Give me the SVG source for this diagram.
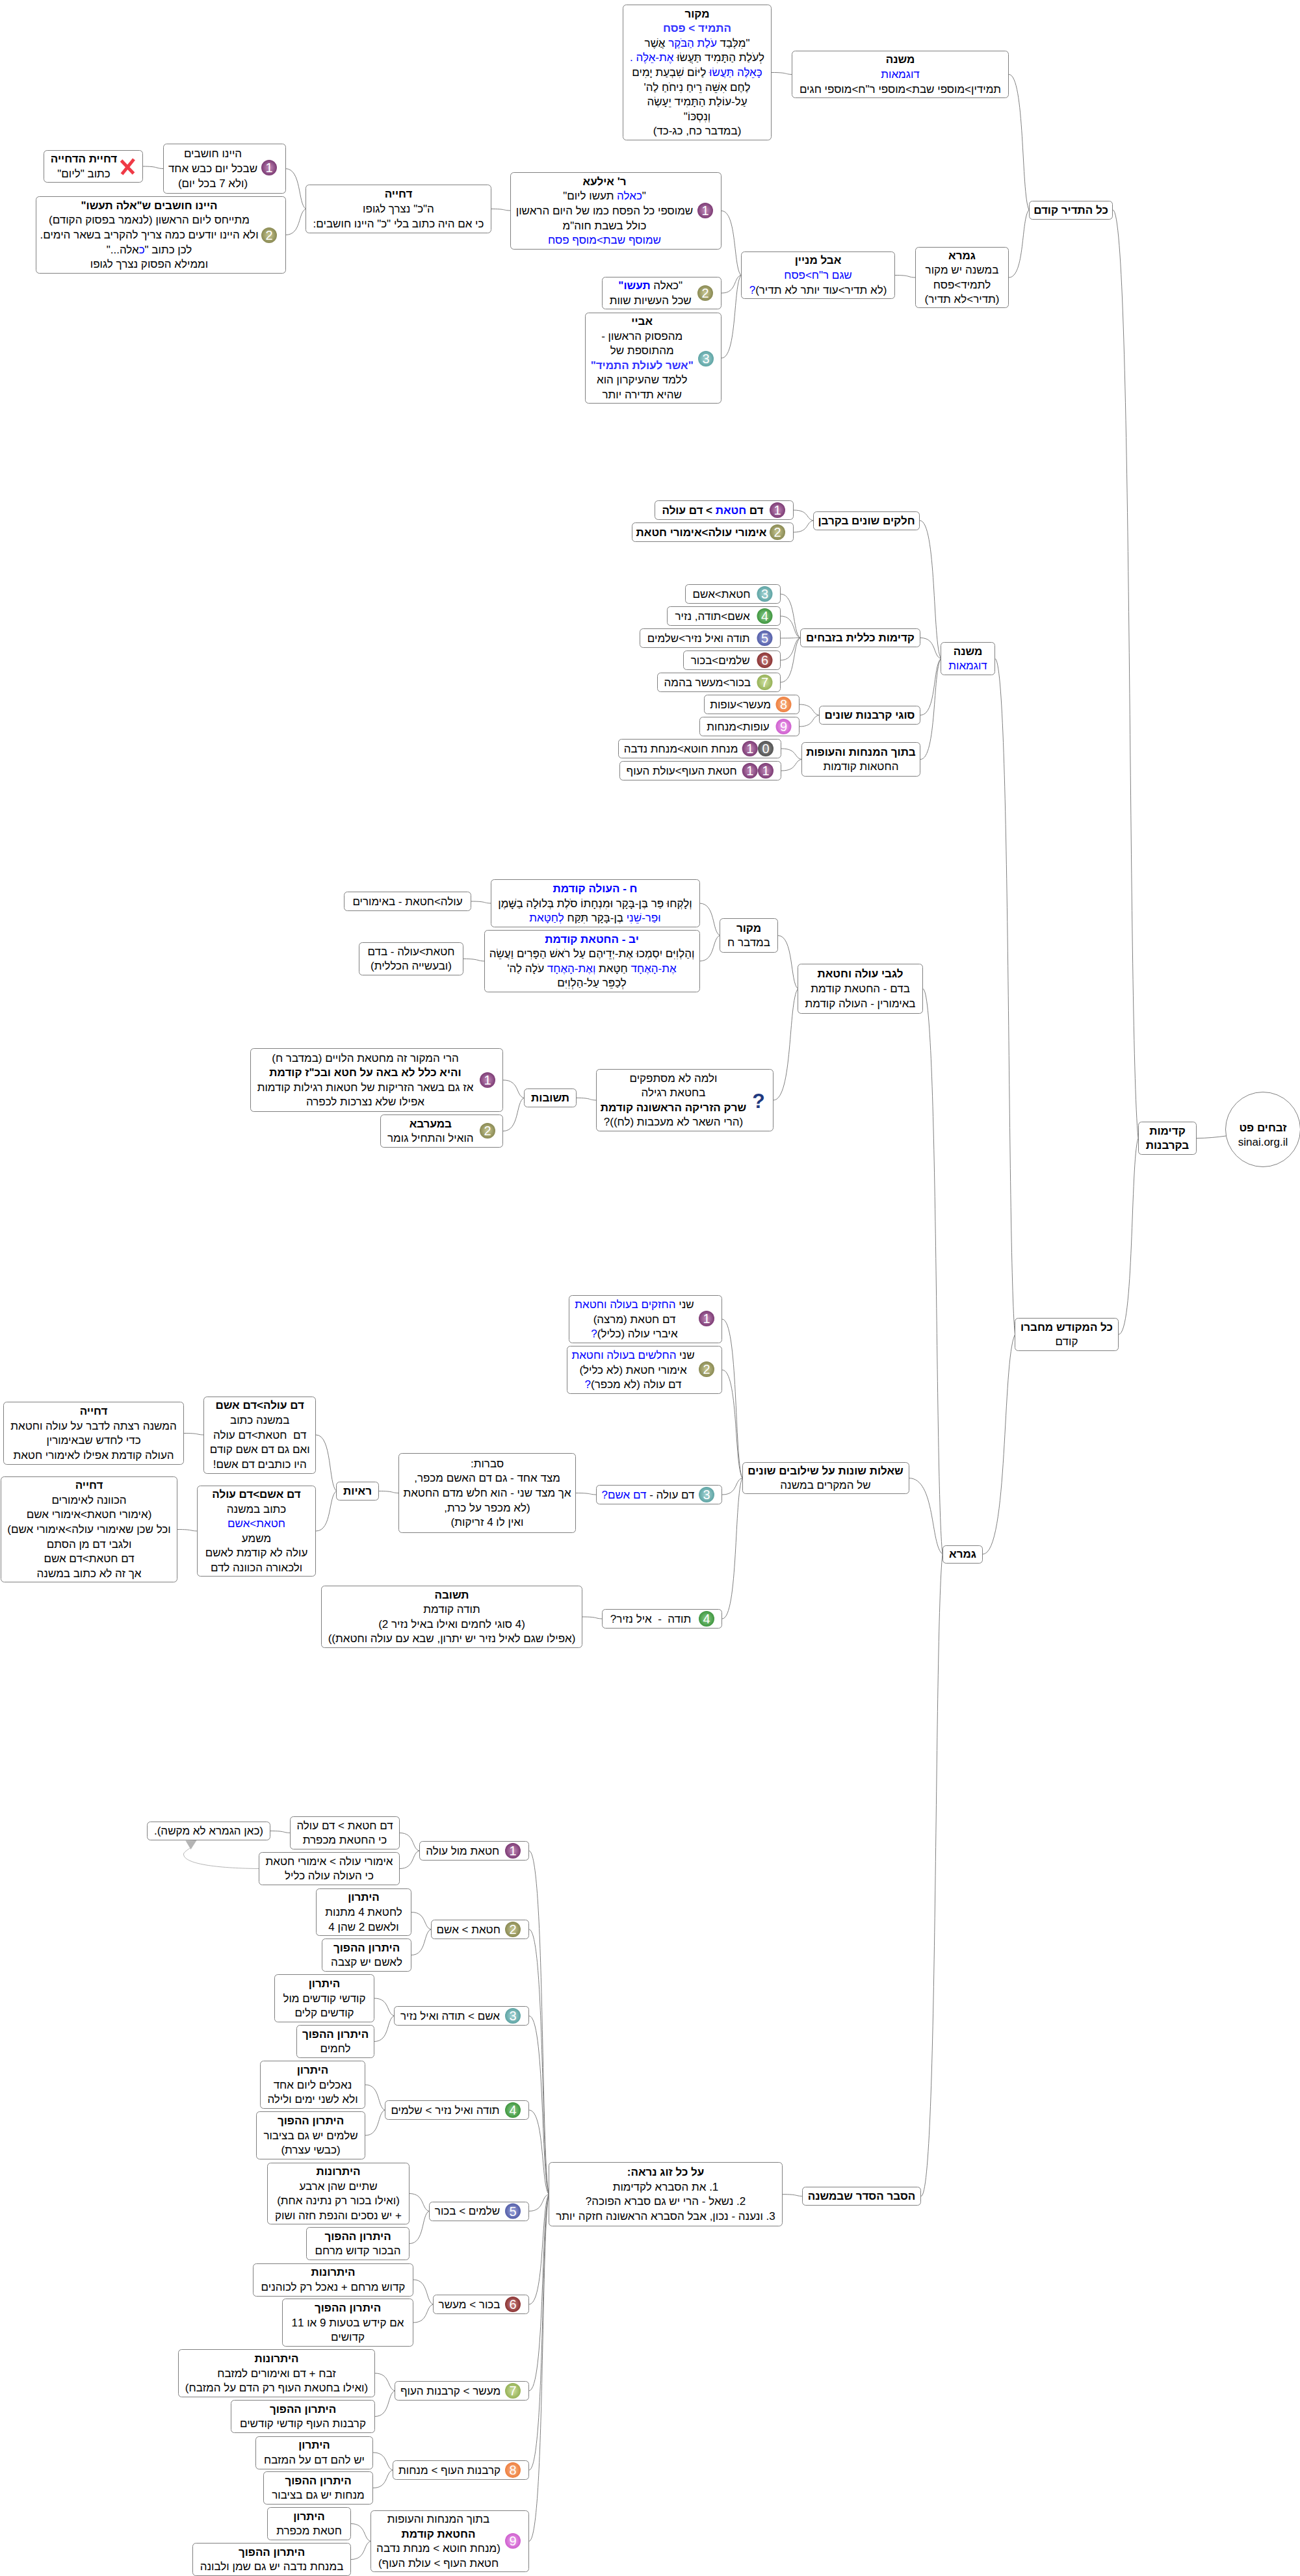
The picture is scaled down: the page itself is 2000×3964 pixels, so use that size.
<svg xmlns="http://www.w3.org/2000/svg" width="2000" height="3964" viewBox="0 0 2000 3964">
<style>
text{font-family:"Liberation Sans","DejaVu Sans",sans-serif;font-size:17px;text-anchor:middle;direction:rtl;fill:#000}
.b{font-weight:bold}
.u{fill:#00f}
.v{fill:#33f}
.n{fill:#fff;stroke:#808080;stroke-width:1}
.c{fill:none;stroke:#808080;stroke-width:1}
.m{stroke:none}
.d{font-size:20px;fill:#fff;direction:ltr}
</style>
<defs>
<radialGradient id="m1" cx=".5" cy=".5" r=".6"><stop offset="0" stop-color="#c48fbc"/><stop offset="1" stop-color="#6e2a66"/></radialGradient>
<radialGradient id="m2" cx=".5" cy=".5" r=".6"><stop offset="0" stop-color="#c9c996"/><stop offset="1" stop-color="#7d7d45"/></radialGradient>
<radialGradient id="m3" cx=".5" cy=".5" r=".6"><stop offset="0" stop-color="#a8d6d6"/><stop offset="1" stop-color="#4f9a9a"/></radialGradient>
<radialGradient id="m4" cx=".5" cy=".5" r=".6"><stop offset="0" stop-color="#8fd08f"/><stop offset="1" stop-color="#2f8a2f"/></radialGradient>
<radialGradient id="m5" cx=".5" cy=".5" r=".6"><stop offset="0" stop-color="#a0a8dc"/><stop offset="1" stop-color="#444f9e"/></radialGradient>
<radialGradient id="m6" cx=".5" cy=".5" r=".6"><stop offset="0" stop-color="#cc8888"/><stop offset="1" stop-color="#7d2222"/></radialGradient>
<radialGradient id="m7" cx=".5" cy=".5" r=".6"><stop offset="0" stop-color="#cfe0a0"/><stop offset="1" stop-color="#8aa848"/></radialGradient>
<radialGradient id="m8" cx=".5" cy=".5" r=".6"><stop offset="0" stop-color="#f8b88c"/><stop offset="1" stop-color="#ec7430"/></radialGradient>
<radialGradient id="m9" cx=".5" cy=".5" r=".6"><stop offset="0" stop-color="#eeaaee"/><stop offset="1" stop-color="#c850c8"/></radialGradient>
<radialGradient id="m0" cx=".5" cy=".5" r=".6"><stop offset="0" stop-color="#999"/><stop offset="1" stop-color="#444"/></radialGradient>
</defs>
<g id="connectors">
<path class="c" d="M1187 111.5C1212 111.5 1206 114 1218 114.5"/>
<path class="c" d="M1552 114.5C1577 114.5 1571 298 1583 323"/>
<path class="c" d="M1552 427C1577 427 1571 335.5 1583 323"/>
<path class="c" d="M1376.5 423.5C1402 423.5 1395 426.6 1408 427"/>
<path class="c" d="M1110 324.5C1134 324.5 1128 411.6 1140 423.5"/>
<path class="c" d="M1110 451C1134 451 1128 426.8 1140 423.5"/>
<path class="c" d="M1110 551C1134 551 1128 438.8 1140 423.5"/>
<path class="c" d="M755 321.5C779 321.5 773 323.7 785 324"/>
<path class="c" d="M439 259.5C464.3 259.5 458 314 470.6 321.5"/>
<path class="c" d="M439 361.5C464.3 361.5 458 326.3 470.6 321.5"/>
<path class="c" d="M219 256C244.6 256 238.2 259.1 251 259.5"/>
<path class="c" d="M1712 323C1743 323 1734.4 1580 1751 1751.5"/>
<path class="c" d="M1720.7 2053.5C1745 2053.5 1739 1787.7 1751 1751.5"/>
<path class="c" d="M1840.5 1751.5C1857 1751.5 1872 1750 1886 1748"/>
<path class="c" d="M1530.6 1013.5C1555.3 1013.5 1549.1 1928.7 1561.5 2053.5"/>
<path class="c" d="M1512 2391.5C1551.6 2391.5 1541.7 2094 1561.5 2053.5"/>
<path class="c" d="M1419.6 1521.5C1443.9 1521.5 1438.2 2287 1450 2391.5"/>
<path class="c" d="M1398 2274.5C1439.6 2274.5 1431.2 2377.5 1450 2391.5"/>
<path class="c" d="M1417 3379.5C1443.4 3379.5 1436.8 2510 1450 2391.5"/>
<path class="c" d="M1415 801C1441 801 1434.5 988 1447.5 1013.5"/>
<path class="c" d="M1416 981.5C1441.2 981.5 1434.9 1009.7 1447.5 1013.5"/>
<path class="c" d="M1416 1100.5C1441.2 1100.5 1434.9 1024 1447.5 1013.5"/>
<path class="c" d="M1416 1168.5C1441.2 1168.5 1434.9 1032 1447.5 1013.5"/>
<path class="c" d="M1221 785C1245.4 785 1239.3 799 1251.5 801"/>
<path class="c" d="M1221 819C1245.4 819 1239.3 803 1251.5 801"/>
<path class="c" d="M1200.5 914C1224.9 914 1218.8 973.4 1231 981.5"/>
<path class="c" d="M1200.5 948C1224.9 948 1218.8 977.5 1231 981.5"/>
<path class="c" d="M1200.5 982C1224.9 982 1218.8 981.5 1231 981.5"/>
<path class="c" d="M1200.5 1016C1224.9 1016 1218.8 985.6 1231 981.5"/>
<path class="c" d="M1200.5 1050C1224.9 1050 1218.8 989.7 1231 981.5"/>
<path class="c" d="M1229.5 1084C1253.9 1084 1247.8 1098.5 1260 1100.5"/>
<path class="c" d="M1229.5 1118C1253.9 1118 1247.8 1102.6 1260 1100.5"/>
<path class="c" d="M1202 1152C1227.2 1152 1220.9 1166.5 1233.5 1168.5"/>
<path class="c" d="M1202 1186C1227.2 1186 1220.9 1170.6 1233.5 1168.5"/>
<path class="c" d="M1196.6 1439.5C1221.4 1439.5 1215.2 1511.7 1227.5 1521.5"/>
<path class="c" d="M1189.6 1693C1220 1693 1212.4 1542 1227.5 1521.5"/>
<path class="c" d="M1076 1390C1101.2 1390 1094.9 1433.6 1107.5 1439.5"/>
<path class="c" d="M1076 1479C1101.2 1479 1094.9 1444.2 1107.5 1439.5"/>
<path class="c" d="M724.5 1387C748.9 1387 742.8 1389.6 755 1390"/>
<path class="c" d="M713 1475.5C738.6 1475.5 732.2 1478.6 745 1479"/>
<path class="c" d="M886.5 1689.5C910.9 1689.5 904.8 1692.6 917 1693"/>
<path class="c" d="M774 1662C799.6 1662 793.2 1686.2 806 1689.5"/>
<path class="c" d="M774 1740.5C799.6 1740.5 793.2 1695.6 806 1689.5"/>
<path class="c" d="M1111 2030C1135.8 2030 1129.6 2245 1142 2274.5"/>
<path class="c" d="M1111 2108C1135.8 2108 1129.6 2254.5 1142 2274.5"/>
<path class="c" d="M1111 2300C1135.8 2300 1129.6 2277.5 1142 2274.5"/>
<path class="c" d="M1111 2491C1135.8 2491 1129.6 2300.5 1142 2274.5"/>
<path class="c" d="M886 2297.5C911.2 2297.5 904.9 2299.7 917.5 2300"/>
<path class="c" d="M582.5 2294.5C606.9 2294.5 600.8 2297.1 613 2297.5"/>
<path class="c" d="M486 2208C511.3 2208 505 2284 517.6 2294.5"/>
<path class="c" d="M486 2356C511.3 2356 505 2301.9 517.6 2294.5"/>
<path class="c" d="M283 2205.5C307.4 2205.5 301.3 2207.7 313.5 2208"/>
<path class="c" d="M272.5 2353.5C297.5 2353.5 291.2 2355.7 303.7 2356"/>
<path class="c" d="M895.5 2488C920.4 2488 914.2 2490.6 926.6 2491"/>
<path class="c" d="M1203.7 3376.7C1228.4 3376.7 1222.2 3379.2 1234.6 3379.5"/>
<path class="c" d="M813.7 2848C838.2 2848 832 3313.3 844.3 3376.7"/>
<path class="c" d="M813.7 2969C838.2 2969 832 3327.8 844.3 3376.7"/>
<path class="c" d="M813.7 3102C838.2 3102 832 3343.7 844.3 3376.7"/>
<path class="c" d="M813.7 3247C838.2 3247 832 3361.1 844.3 3376.7"/>
<path class="c" d="M813.7 3402.5C838.2 3402.5 832 3379.8 844.3 3376.7"/>
<path class="c" d="M813.7 3546C838.2 3546 832 3397 844.3 3376.7"/>
<path class="c" d="M813.7 3679C838.2 3679 832 3413 844.3 3376.7"/>
<path class="c" d="M813.7 3801C838.2 3801 832 3427.6 844.3 3376.7"/>
<path class="c" d="M813.7 3910.5C838.2 3910.5 832 3440.8 844.3 3376.7"/>
<path class="c" d="M614.7 2820.5C638.9 2820.5 632.9 2844.7 645 2848"/>
<path class="c" d="M614.7 2875.5C638.9 2875.5 632.9 2851.3 645 2848"/>
<path class="c" d="M415.5 2817.5C440.3 2817.5 434.1 2820.1 446.5 2820.5"/>
<path class="c" d="M632.6 2942.5C656.9 2942.5 650.8 2965.8 663 2969"/>
<path class="c" d="M632.6 3008.5C656.9 3008.5 650.8 2973.7 663 2969"/>
<path class="c" d="M575.5 3075C600.3 3075 594.1 3098.8 606.5 3102"/>
<path class="c" d="M575.5 3141.5C600.3 3141.5 594.1 3106.7 606.5 3102"/>
<path class="c" d="M561.7 3208C585.9 3208 579.9 3242.3 592 3247"/>
<path class="c" d="M561.7 3286C585.9 3286 579.9 3251.7 592 3247"/>
<path class="c" d="M629.7 3375.5C653.9 3375.5 647.9 3399.3 660 3402.5"/>
<path class="c" d="M629.7 3452.5C653.9 3452.5 647.9 3408.5 660 3402.5"/>
<path class="c" d="M635.7 3508C660.2 3508 654.1 3541.4 666.4 3546"/>
<path class="c" d="M635.7 3574C660.2 3574 654.1 3549.4 666.4 3546"/>
<path class="c" d="M576.5 3652C601.3 3652 595.1 3675.8 607.5 3679"/>
<path class="c" d="M576.5 3718.5C601.3 3718.5 595.1 3683.7 607.5 3679"/>
<path class="c" d="M573.8 3774C598.3 3774 592.2 3797.8 604.4 3801"/>
<path class="c" d="M573.8 3828.5C598.3 3828.5 592.2 3804.3 604.4 3801"/>
<path class="c" d="M539.8 3883.5C564.3 3883.5 558.2 3907.3 570.4 3910.5"/>
<path class="c" d="M539.8 3938.5C564.3 3938.5 558.2 3913.9 570.4 3910.5"/>
<path fill="none" stroke="#b4b4b4" stroke-width="1" d="M398 2875.5C345 2875 282 2870 282.5 2853C283 2850 288 2847 293.5 2843"/>
<polygon fill="#b4b4b4" points="285.5,2832.5 302.5,2832 293.5,2846"/>
</g>
<g id="root"><circle class="n" cx="1943" cy="1738" r="57.5"/><text class="b" x="1943" y="1740.5">זבחים פט</text><text x="1943" y="1762.5" style="direction:ltr">sinai.org.il</text></g>
<g id="n-kdimut"><rect class="n" x="1751.5" y="1726.5" width="89" height="50" rx="5"/><g transform="translate(1796 1751.5)"><text class="b" y="-5.8">קדימות</text><text class="b" y="16.8">בקרבנות</text></g></g>
<g id="n-tadir"><rect class="n" x="1583.5" y="309.5" width="128" height="28" rx="5"/><g transform="translate(1647.5 323.5)"><text class="b" y="5.5">כל התדיר קודם</text></g></g>
<g id="n-mekudash"><rect class="n" x="1561.5" y="2028.5" width="159" height="50" rx="5"/><g transform="translate(1641 2053.5)"><text class="b" y="-5.8">כל המקודש מחברו</text><text y="16.8">קודם</text></g></g>
<g id="n-mishna1"><rect class="n" x="1218.5" y="78.5" width="333" height="72" rx="5"/><g transform="translate(1385 114.5)"><text class="b" y="-17.1">משנה</text><text class="u" y="5.5">דוגמאות</text><text y="28.1">תמידין&gt;מוספי שבת&gt;מוספי ר"ח&gt;מוספי חגים</text></g></g>
<g id="n-makor1"><rect class="n" x="958.5" y="7.5" width="228" height="208" rx="5"/><g transform="translate(1072.5 111.5)"><text class="b" y="-84.9">מקור</text><text class="b v" y="-62.3">התמיד &gt; פסח</text><text y="-39.7">"מִלְּבַד <tspan class="u">עֹלַת הַבֹּקֶר</tspan> אֲשֶׁר</text><text y="-17.1">לְעֹלַת הַתָּמִיד תַּעֲשׂוּ <tspan class="u">אֶת-אֵלֶּה .</tspan></text><text y="5.5"><tspan class="u">כָּאֵלֶּה תַּעֲשׂוּ</tspan>  לַיּוֹם שִׁבְעַת יָמִים</text><text y="28.1">לֶחֶם אִשֵּׁה רֵיחַ נִיחֹחַ לַה'</text><text y="50.7">עַל-עוֹלַת הַתָּמִיד יֵעָשֶׂה</text><text y="73.3">וְנִסְכּוֹ"</text><text y="95.9">(במדבר כח, כג-כד)</text></g></g>
<g id="n-gemara1"><rect class="n" x="1408.5" y="380.5" width="143" height="93" rx="5"/><g transform="translate(1480 427)"><text class="b" y="-28.4">גמרא</text><text y="-5.8">במשנה יש מקור</text><text y="16.8">לתמיד&gt;פסח</text><text y="39.4">(תדיר&gt;לא תדיר)</text></g></g>
<g id="n-aval"><rect class="n" x="1140.5" y="387.5" width="236" height="72" rx="5"/><g transform="translate(1258.5 423.5)"><text class="b" y="-17.1">אבל מניין</text><text class="u" y="5.5">שגם ר"ח&gt;פסח</text><text y="28.1">(לא תדיר&gt;עוד יותר לא תדיר)<tspan class="u">?</tspan></text></g></g>
<g id="n-ilea"><rect class="n" x="785.5" y="265.5" width="324" height="118" rx="5"/><circle class="m" cx="1085" cy="324" r="12" fill="url(#m1)"/><text class="d" x="1085" y="331">1</text><g transform="translate(930 324.5)"><text class="b" y="-39.7">ר' אילעא</text><text y="-17.1">"<tspan class="u">כאלה</tspan> תעשו ליום"</text><text y="5.5">שמוספי כל הפסח כמו של היום הראשון</text><text y="28.1">כולל בשבת חוה"מ</text><text class="u" y="50.7">שמוסף שבת&gt;מוסף פסח</text></g></g>
<g id="n-kaele"><rect class="n" x="926.5" y="426.5" width="183" height="49" rx="5"/><circle class="m" cx="1085" cy="451" r="12" fill="url(#m2)"/><text class="d" x="1085" y="458">2</text><g transform="translate(1000.7 451)"><text y="-5.8">"כאלה <tspan class="b u">תעשו"</tspan></text><text y="16.8">שכל העשיות שוות</text></g></g>
<g id="n-abaye"><rect class="n" x="900.5" y="481.5" width="209" height="139" rx="5"/><circle class="m" cx="1086" cy="552" r="12" fill="url(#m3)"/><text class="d" x="1086" y="559">3</text><g transform="translate(987.7 551)"><text class="b" y="-51">אביי</text><text y="-28.4">מהפסוק הראשון -</text><text y="-5.8">מהתוספת של</text><text class="b v" y="16.8">"אשר לעולת התמיד"</text><text y="39.4">ללמד שהעיקרון הוא</text><text y="62">שהיא תדירה יותר</text></g></g>
<g id="n-dchiya1"><rect class="n" x="470.5" y="284.5" width="285" height="74" rx="5"/><g transform="translate(613 321.5)"><text class="b" y="-17.1">דחייה</text><text y="5.5">ה"כ" נצרך לגופו</text><text y="28.1">כי אם היה כתוב בלי "כ" היינו חושבים:</text></g></g>
<g id="n-hayinu1"><rect class="n" x="251.5" y="221.5" width="188" height="76" rx="5"/><circle class="m" cx="414" cy="258" r="12" fill="url(#m1)"/><text class="d" x="414" y="265">1</text><g transform="translate(327.5 259.5)"><text y="-17.1">היינו חושבים</text><text y="5.5">שבכל יום כבש אחד</text><text y="28.1">(ולא 7 בכל יום)</text></g></g>
<g id="n-dchiyat"><rect class="n" x="67.5" y="231.5" width="152" height="49" rx="5"/><path d="M186.5 247L205.5 267M206 245L187.5 268" fill="none" stroke="#ef3a46" stroke-width="5"/><g transform="translate(129 256)"><text class="b" y="-5.8">דחיית הדחייה</text><text y="16.8">כתוב "ליום"</text></g></g>
<g id="n-hayinu2"><rect class="n" x="55.5" y="302.5" width="384" height="118" rx="5"/><circle class="m" cx="414" cy="362" r="12" fill="url(#m2)"/><text class="d" x="414" y="369">2</text><g transform="translate(229.5 361.5)"><text class="b" y="-39.7">היינו חושבים ש"אלה תעשו"</text><text y="-17.1">מתייחס ליום הראשון (לנאמר בפסוק הקודם)</text><text y="5.5">ולא היינו יודעים כמה צריך להקריב בשאר הימים.</text><text y="28.1">לכן כתוב "<tspan class="u">כ</tspan>אלה..."</text><text y="50.7">וממילא הפסוק נצרך לגופו</text></g></g>
<g id="n-mishna2"><rect class="n" x="1447.5" y="988.5" width="83" height="50" rx="5"/><g transform="translate(1489 1013.5)"><text class="b" y="-5.8">משנה</text><text class="u" y="16.8">דוגמאות</text></g></g>
<g id="n-chalakim"><rect class="n" x="1251.5" y="787.5" width="163" height="28" rx="5"/><g transform="translate(1333 801.5)"><text class="b" y="5.5">חלקים שונים בקרבן</text></g></g>
<g id="n-m1"><rect class="n" x="1007.5" y="770.5" width="213" height="29" rx="5"/><circle class="m" cx="1196" cy="785" r="12" fill="url(#m1)"/><text class="d" x="1196" y="792">1</text><g transform="translate(1096.5 785)"><text class="b" y="5.5">דם <tspan class="u">חטאת</tspan> &gt; דם עולה</text></g></g>
<g id="n-m2"><rect class="n" x="972.5" y="804.5" width="248" height="29" rx="5"/><circle class="m" cx="1196" cy="819" r="12" fill="url(#m2)"/><text class="d" x="1196" y="826">2</text><g transform="translate(1079 819)"><text class="b" y="5.5">אימורי עולה&gt;אימורי חטאת</text></g></g>
<g id="n-klalit"><rect class="n" x="1231.5" y="967.5" width="184" height="28" rx="5"/><g transform="translate(1323.5 981.5)"><text class="b" y="5.5">קדימות כללית בזבחים</text></g></g>
<g id="n-m3"><rect class="n" x="1054.5" y="899.5" width="146" height="29" rx="5"/><circle class="m" cx="1176.5" cy="914" r="12" fill="url(#m3)"/><text class="d" x="1176.5" y="921">3</text><g transform="translate(1110 914)"><text y="5.5">חטאת&gt;אשם</text></g></g>
<g id="n-m4"><rect class="n" x="1026.5" y="933.5" width="174" height="29" rx="5"/><circle class="m" cx="1176.5" cy="948" r="12" fill="url(#m4)"/><text class="d" x="1176.5" y="955">4</text><g transform="translate(1096 948)"><text y="5.5">אשם&gt;תודה, נזיר</text></g></g>
<g id="n-m5"><rect class="n" x="984.5" y="967.5" width="216" height="29" rx="5"/><circle class="m" cx="1176.5" cy="982" r="12" fill="url(#m5)"/><text class="d" x="1176.5" y="989">5</text><g transform="translate(1074.7 982)"><text y="5.5">תודה ואיל נזיר&gt;שלמים</text></g></g>
<g id="n-m6"><rect class="n" x="1051.5" y="1001.5" width="149" height="29" rx="5"/><circle class="m" cx="1176.5" cy="1016" r="12" fill="url(#m6)"/><text class="d" x="1176.5" y="1023">6</text><g transform="translate(1108.2 1016)"><text y="5.5">שלמים&gt;בכור</text></g></g>
<g id="n-m7"><rect class="n" x="1011.5" y="1035.5" width="189" height="29" rx="5"/><circle class="m" cx="1176.5" cy="1050" r="12" fill="url(#m7)"/><text class="d" x="1176.5" y="1057">7</text><g transform="translate(1088.2 1050)"><text y="5.5">בכור&gt;מעשר בהמה</text></g></g>
<g id="n-sugei"><rect class="n" x="1260.5" y="1086.5" width="155" height="28" rx="5"/><g transform="translate(1338 1100.5)"><text class="b" y="5.5">סוגי קרבנות שונים</text></g></g>
<g id="n-m8"><rect class="n" x="1083.5" y="1069.5" width="146" height="29" rx="5"/><circle class="m" cx="1205.5" cy="1084" r="12" fill="url(#m8)"/><text class="d" x="1205.5" y="1091">8</text><g transform="translate(1139 1084)"><text y="5.5">מעשר&gt;עופות</text></g></g>
<g id="n-m9"><rect class="n" x="1076.5" y="1103.5" width="153" height="29" rx="5"/><circle class="m" cx="1205.5" cy="1118" r="12" fill="url(#m9)"/><text class="d" x="1205.5" y="1125">9</text><g transform="translate(1135.5 1118)"><text y="5.5">עופות&gt;מנחות</text></g></g>
<g id="n-betoch"><rect class="n" x="1233.5" y="1142.5" width="182" height="52" rx="5"/><g transform="translate(1324.5 1168.5)"><text class="b" y="-5.8">בתוך המנחות והעופות</text><text y="16.8">החטאות קודמות</text></g></g>
<g id="n-m10"><rect class="n" x="951.5" y="1137.5" width="250" height="29" rx="5"/><circle class="m" cx="1153.7" cy="1152" r="12" fill="url(#m1)"/><circle class="m" cx="1178" cy="1152" r="12" fill="url(#m0)"/><text class="d" x="1153.7" y="1159">1</text><text class="d" x="1178" y="1159">0</text><g transform="translate(1047.5 1152)"><text y="5.5">מנחת חוטא&gt;מנחת נדבה</text></g></g>
<g id="n-m11"><rect class="n" x="953.5" y="1171.5" width="248" height="29" rx="5"/><circle class="m" cx="1153.7" cy="1186" r="12" fill="url(#m1)"/><circle class="m" cx="1178" cy="1186" r="12" fill="url(#m1)"/><text class="d" x="1153.7" y="1193">1</text><text class="d" x="1178" y="1193">1</text><g transform="translate(1048.7 1186)"><text y="5.5">חטאת העוף&gt;עולת העוף</text></g></g>
<g id="n-gemara2"><rect class="n" x="1450.5" y="2378.5" width="61" height="27" rx="5"/><g transform="translate(1481 2391.5)"><text class="b" y="5.5">גמרא</text></g></g>
<g id="n-legabei"><rect class="n" x="1227.5" y="1483.5" width="192" height="76" rx="5"/><g transform="translate(1323.5 1521.5)"><text class="b" y="-17.1">לגבי עולה וחטאת</text><text y="5.5">בדם - החטאת קודמת</text><text y="28.1">באימורין - העולה קודמת</text></g></g>
<g id="n-makor2"><rect class="n" x="1107.5" y="1413.5" width="89" height="52" rx="5"/><g transform="translate(1152 1439.5)"><text class="b" y="-5.8">מקור</text><text y="16.8">במדבר ח</text></g></g>
<g id="n-chet"><rect class="n" x="755.5" y="1353.5" width="321" height="73" rx="5"/><g transform="translate(915.5 1390)"><text class="b u" y="-17.1">ח - העולה קודמת</text><text y="5.5">וְלָקְחוּ פַּר בֶּן-בָּקָר וּמִנְחָתוֹ סֹלֶת בְּלוּלָה בַשָּׁמֶן</text><text y="28.1"><tspan class="u">וּפַר-שֵׁנִי</tspan> בֶן-בָּקָר תִּקַּח <tspan class="u">לְחַטָּאת</tspan></text></g></g>
<g id="n-yud"><rect class="n" x="745.5" y="1431.5" width="331" height="95" rx="5"/><g transform="translate(910.5 1479)"><text class="b u" y="-28.4">יב - החטאת קודמת</text><text y="-5.8">וְהַלְוִיִּם יִסְמְכוּ אֶת-יְדֵיהֶם עַל רֹאשׁ הַפָּרִים וַעֲשֵׂה</text><text y="16.8"><tspan class="u">אֶת-הָאֶחָד</tspan> חַטָּאת <tspan class="u">וְאֶת-הָאֶחָד</tspan> עֹלָה לַה'</text><text y="39.4">לְכַפֵּר עַל-הַלְוִיִּם</text></g></g>
<g id="n-ola"><rect class="n" x="529.5" y="1372.5" width="195" height="29" rx="5"/><g transform="translate(627 1387)"><text y="5.5">עולה&gt;חטאת - באימורים</text></g></g>
<g id="n-chatat"><rect class="n" x="552.5" y="1450.5" width="160" height="50" rx="5"/><g transform="translate(632.5 1475.5)"><text y="-5.8">חטאת&gt;עולה - בדם</text><text y="16.8">(ובעשייה הכללית)</text></g></g>
<g id="n-velama"><rect class="n" x="917.5" y="1645.5" width="272" height="95" rx="5"/><text class="b" x="1167" y="1705" style="font-size:32px;fill:#1f3a80;direction:ltr">?</text><g transform="translate(1036 1693)"><text y="-28.4">ולמה לא מסתפקים</text><text y="-5.8">בחטאת רגילה</text><text class="b" y="16.8">שרק הזריקה הראשונה קודמת</text><text y="39.4">(הרי השאר לא מעכבות (לח))?</text></g></g>
<g id="n-tshuvot"><rect class="n" x="806.5" y="1675.5" width="80" height="28" rx="5"/><g transform="translate(846.5 1689.5)"><text class="b" y="5.5">תשובות</text></g></g>
<g id="n-harei"><rect class="n" x="385.5" y="1613.5" width="388" height="97" rx="5"/><circle class="m" cx="750" cy="1662" r="12" fill="url(#m1)"/><text class="d" x="750" y="1669">1</text><g transform="translate(562 1662)"><text y="-28.4">הרי המקור זה מחטאת הלויים (במדבר ח)</text><text class="b" y="-5.8">והיא כלל לא באה על חטא ובכ"ז קודמת</text><text y="16.8">אז גם בשאר הזריקות של חטאות רגילות קודמות</text><text y="39.4">אפילו שלא נצרכות לכפרה</text></g></g>
<g id="n-maarava"><rect class="n" x="585.5" y="1715.5" width="188" height="50" rx="5"/><circle class="m" cx="750" cy="1740" r="12" fill="url(#m2)"/><text class="d" x="750" y="1747">2</text><g transform="translate(662.3 1740.5)"><text class="b" y="-5.8">במערבא</text><text y="16.8">הואיל והתחיל גומר</text></g></g>
<g id="n-sheelot"><rect class="n" x="1142.5" y="2250.5" width="256" height="48" rx="5"/><g transform="translate(1270 2274.5)"><text class="b" y="-5.8">שאלות שונות על שילובים שונים</text><text y="16.8">של המקרים במשנה</text></g></g>
<g id="n-s1"><rect class="n" x="875.5" y="1993.5" width="235" height="73" rx="5"/><circle class="m" cx="1087" cy="2029" r="12" fill="url(#m1)"/><text class="d" x="1087" y="2036">1</text><g transform="translate(976 2030)"><text y="-17.1">שני <tspan class="u">החזקים בעולה וחטאת</tspan></text><text y="5.5">דם חטאת (מרצה)</text><text y="28.1">איברי עולה (כליל)<tspan class="u">?</tspan></text></g></g>
<g id="n-s2"><rect class="n" x="872.5" y="2071.5" width="238" height="73" rx="5"/><circle class="m" cx="1087" cy="2107" r="12" fill="url(#m2)"/><text class="d" x="1087" y="2114">2</text><g transform="translate(974 2108)"><text y="-17.1">שני <tspan class="u">החלשים בעולה וחטאת</tspan></text><text y="5.5">אימורי חטאת (לא כליל)</text><text y="28.1">דם עולה (לא מכפר)<tspan class="u">?</tspan></text></g></g>
<g id="n-s3"><rect class="n" x="917.5" y="2285.5" width="193" height="29" rx="5"/><circle class="m" cx="1087" cy="2300" r="12" fill="url(#m3)"/><text class="d" x="1087" y="2307">3</text><g transform="translate(997 2300)"><text y="5.5">דם עולה - <tspan class="u">דם אשם?</tspan></text></g></g>
<g id="n-s4"><rect class="n" x="926.5" y="2476.5" width="184" height="29" rx="5"/><circle class="m" cx="1087" cy="2491" r="12" fill="url(#m4)"/><text class="d" x="1087" y="2498">4</text><g transform="translate(1001 2491)"><text y="5.5" xml:space="preserve">תודה  -  איל נזיר?</text></g></g>
<g id="n-svarot"><rect class="n" x="613.5" y="2236.5" width="272" height="122" rx="5"/><g transform="translate(749.5 2297.5)"><text y="-39.7">סברות:</text><text y="-17.1">מצד אחד - גם דם האשם מכפר,</text><text y="5.5">אך מצד שני - הוא חלש מדם החטאת</text><text y="28.1">(לא מכפר על כרת,</text><text y="50.7">ואין לו 4 זריקות)</text></g></g>
<g id="n-reayot"><rect class="n" x="517.5" y="2280.5" width="65" height="28" rx="5"/><g transform="translate(550 2294.5)"><text class="b" y="5.5">ראיות</text></g></g>
<g id="n-tshuva"><rect class="n" x="494.5" y="2440.5" width="401" height="95" rx="5"/><g transform="translate(695 2488)"><text class="b" y="-28.4">תשובה</text><text y="-5.8">תודה קודמת</text><text y="16.8">(4 סוגי לחמים ואילו באיל נזיר 2)</text><text y="39.4">(אפילו שגם לאיל נזיר יש יתרון, שבא עם עולה וחטאת))</text></g></g>
<g id="n-raya1"><rect class="n" x="313.5" y="2149.5" width="172" height="118" rx="5"/><g transform="translate(399.7 2208)"><text class="b" y="-39.7">דם עולה&gt;דם אשם</text><text y="-17.1">במשנה כתוב</text><text y="5.5" xml:space="preserve">דם  חטאת&gt;דם עולה</text><text y="28.1">ואם גם דם אשם קודם</text><text y="50.7">היו כותבים דם אשם!</text></g></g>
<g id="n-raya2"><rect class="n" x="303.5" y="2286.5" width="182" height="139" rx="5"/><g transform="translate(394.5 2356)"><text class="b" y="-51">דם אשם&gt;דם עולה</text><text y="-28.4">כתוב במשנה</text><text class="u" y="-5.8">חטאת&gt;אשם</text><text y="16.8">משמע</text><text y="39.4">עולה לא קודמת לאשם</text><text y="62">ולכאורה הכוונה לדם</text></g></g>
<g id="n-dch2"><rect class="n" x="5.5" y="2157.5" width="277" height="96" rx="5"/><g transform="translate(144 2205.5)"><text class="b" y="-28.4">דחייה</text><text y="-5.8">המשנה רצתה לדבר על עולה וחטאת</text><text y="16.8">כדי לחדש שבאימורין</text><text y="39.4">העולה קודמת אפילו לאימורי חטאת</text></g></g>
<g id="n-dch3"><rect class="n" x="1.5" y="2272.5" width="271" height="162" rx="5"/><g transform="translate(137 2353.5)"><text class="b" y="-62.3">דחייה</text><text y="-39.7">הכוונה לאימורים</text><text y="-17.1">(אימורי חטאת&gt;אימורי אשם</text><text y="5.5">וכל שכן שאימורי עולה&gt;אימורי אשם)</text><text y="28.1">ולגבי דם מן הסתם</text><text y="50.7">דם חטאת&gt;דם אשם</text><text y="73.3">אך זה לא כתוב במשנה</text></g></g>
<g id="n-hesber"><rect class="n" x="1234.5" y="3365.5" width="182" height="28" rx="5"/><g transform="translate(1325.5 3379.5)"><text class="b" y="5.5">הסבר הסדר שבמשנה</text></g></g>
<g id="n-alkol"><rect class="n" x="844.5" y="3327.5" width="359" height="98" rx="5"/><g transform="translate(1024 3376.7)"><text class="b" y="-28.4">על כל זוג נראה:</text><text y="-5.8">1. את הסברא לקדימות</text><text y="16.8">2. נשאל - הרי יש גם סברא הפוכה?</text><text y="39.4">3. ונענה - נכון, אבל הסברא הראשונה חזקה יותר</text></g></g>
<g id="n-p1"><rect class="n" x="645.5" y="2833.5" width="168" height="29" rx="5"/><circle class="m" cx="789" cy="2848" r="12" fill="url(#m1)"/><text class="d" x="789" y="2855">1</text><g transform="translate(711.7 2848)"><text y="5.5">חטאת מול עולה</text></g></g>
<g id="n-p1a"><rect class="n" x="446.5" y="2795.5" width="168" height="50" rx="5"/><g transform="translate(530.5 2820.5)"><text y="-5.8">דם חטאת &gt; דם עולה</text><text y="16.8">כי החטאת מכפרת</text></g></g>
<g id="n-p1b"><rect class="n" x="398.5" y="2850.5" width="216" height="50" rx="5"/><g transform="translate(506.5 2875.5)"><text y="-5.8">אימורי עולה &gt; אימורי חטאת</text><text y="16.8">כי העולה עולה כליל</text></g></g>
<g id="n-kan"><rect class="n" x="226.5" y="2803.5" width="189" height="28" rx="5"/><g transform="translate(321 2817.5)"><text y="5.5">(כאן הגמרא לא מקשה).</text></g></g>
<g id="n-p2"><rect class="n" x="663.5" y="2954.5" width="150" height="29" rx="5"/><circle class="m" cx="789" cy="2969" r="12" fill="url(#m2)"/><text class="d" x="789" y="2976">2</text><g transform="translate(720.7 2969)"><text y="5.5">חטאת &gt; אשם</text></g></g>
<g id="n-p2a"><rect class="n" x="486.5" y="2906.5" width="146" height="72" rx="5"/><g transform="translate(559.5 2942.5)"><text class="b" y="-17.1">היתרון</text><text y="5.5">לחטאת 4 מתנות</text><text y="28.1">ולאשם 2 שהן 4</text></g></g>
<g id="n-p2b"><rect class="n" x="495.5" y="2983.5" width="137" height="50" rx="5"/><g transform="translate(564 3008.5)"><text class="b" y="-5.8">היתרון ההפוך</text><text y="16.8">לאשם יש קצבה</text></g></g>
<g id="n-p3"><rect class="n" x="606.5" y="3087.5" width="207" height="29" rx="5"/><circle class="m" cx="789" cy="3102" r="12" fill="url(#m3)"/><text class="d" x="789" y="3109">3</text><g transform="translate(692.5 3102)"><text y="5.5">אשם &gt; תודה ואיל נזיר</text></g></g>
<g id="n-p3a"><rect class="n" x="422.5" y="3038.5" width="153" height="73" rx="5"/><g transform="translate(499 3075)"><text class="b" y="-17.1">היתרון</text><text y="5.5">קודשי קודשים מול</text><text y="28.1">קודשים קלים</text></g></g>
<g id="n-p3b"><rect class="n" x="456.5" y="3116.5" width="119" height="50" rx="5"/><g transform="translate(516 3141.5)"><text class="b" y="-5.8">היתרון ההפוך</text><text y="16.8">לחמים</text></g></g>
<g id="n-p4"><rect class="n" x="592.5" y="3232.5" width="221" height="29" rx="5"/><circle class="m" cx="789" cy="3247" r="12" fill="url(#m4)"/><text class="d" x="789" y="3254">4</text><g transform="translate(685 3247)"><text y="5.5">תודה ואיל נזיר &gt; שלמים</text></g></g>
<g id="n-p4a"><rect class="n" x="400.5" y="3171.5" width="161" height="73" rx="5"/><g transform="translate(481 3208)"><text class="b" y="-17.1">היתרון</text><text y="5.5">נאכלים ליום אחד</text><text y="28.1">ולא לשני ימים ולילה</text></g></g>
<g id="n-p4b"><rect class="n" x="394.5" y="3249.5" width="167" height="73" rx="5"/><g transform="translate(478 3286)"><text class="b" y="-17.1">היתרון ההפוך</text><text y="5.5">שלמים יש גם בציבור</text><text y="28.1">(כבשי עצרת)</text></g></g>
<g id="n-p5"><rect class="n" x="660.5" y="3388.5" width="153" height="29" rx="5"/><circle class="m" cx="789" cy="3402.5" r="12" fill="url(#m5)"/><text class="d" x="789" y="3409.5">5</text><g transform="translate(719 3402.5)"><text y="5.5">שלמים &gt; בכור</text></g></g>
<g id="n-p5a"><rect class="n" x="411.5" y="3328.5" width="218" height="94" rx="5"/><g transform="translate(520.5 3375.5)"><text class="b" y="-28.4">היתרונות</text><text y="-5.8">שתיים שהן ארבע</text><text y="16.8">(ואילו בכור רק נתינה אחת)</text><text y="39.4">+ יש נסכים והנפת חזה ושוק</text></g></g>
<g id="n-p5b"><rect class="n" x="471.5" y="3427.5" width="158" height="50" rx="5"/><g transform="translate(550.5 3452.5)"><text class="b" y="-5.8">היתרון ההפוך</text><text y="16.8">הבכור קדוש מרחם</text></g></g>
<g id="n-p6"><rect class="n" x="666.5" y="3531.5" width="147" height="29" rx="5"/><circle class="m" cx="789" cy="3546" r="12" fill="url(#m6)"/><text class="d" x="789" y="3553">6</text><g transform="translate(722 3546)"><text y="5.5">בכור &gt; מעשר</text></g></g>
<g id="n-p6a"><rect class="n" x="389.5" y="3483.5" width="246" height="50" rx="5"/><g transform="translate(512.5 3508)"><text class="b" y="-5.8">היתרונות</text><text y="16.8">קדוש מרחם + נאכל רק לכוהנים</text></g></g>
<g id="n-p6b"><rect class="n" x="434.5" y="3537.5" width="201" height="73" rx="5"/><g transform="translate(535 3574)"><text class="b" y="-17.1">היתרון ההפוך</text><text y="5.5">אם קידש בטעות 9 או 11</text><text y="28.1">קדושים</text></g></g>
<g id="n-p7"><rect class="n" x="607.5" y="3664.5" width="206" height="29" rx="5"/><circle class="m" cx="789" cy="3679" r="12" fill="url(#m7)"/><text class="d" x="789" y="3686">7</text><g transform="translate(693 3679)"><text y="5.5">מעשר &gt; קרבנות העוף</text></g></g>
<g id="n-p7a"><rect class="n" x="274.5" y="3615.5" width="302" height="73" rx="5"/><g transform="translate(425.5 3652)"><text class="b" y="-17.1">היתרונות</text><text y="5.5">זבח + דם ואימורים למזבח</text><text y="28.1">(ואילו בחטאת העוף רק הדם על המזבח)</text></g></g>
<g id="n-p7b"><rect class="n" x="355.5" y="3693.5" width="221" height="50" rx="5"/><g transform="translate(466 3718.5)"><text class="b" y="-5.8">היתרון ההפוך</text><text y="16.8">קרבנות העוף קודשי קודשים</text></g></g>
<g id="n-p8"><rect class="n" x="604.5" y="3786.5" width="209" height="29" rx="5"/><circle class="m" cx="789" cy="3801" r="12" fill="url(#m8)"/><text class="d" x="789" y="3808">8</text><g transform="translate(691.5 3801)"><text y="5.5">קרבנות העוף &gt; מנחות</text></g></g>
<g id="n-p8a"><rect class="n" x="393.5" y="3749.5" width="180" height="50" rx="5"/><g transform="translate(483.5 3774)"><text class="b" y="-5.8">היתרון</text><text y="16.8">יש להם דם על המזבח</text></g></g>
<g id="n-p8b"><rect class="n" x="405.5" y="3803.5" width="168" height="50" rx="5"/><g transform="translate(489.5 3828.5)"><text class="b" y="-5.8">היתרון ההפוך</text><text y="16.8">מנחות יש גם בציבור</text></g></g>
<g id="n-p9"><rect class="n" x="570.5" y="3863.5" width="243" height="94" rx="5"/><circle class="m" cx="789" cy="3910" r="12" fill="url(#m9)"/><text class="d" x="789" y="3917">9</text><g transform="translate(674.5 3910.5)"><text y="-28.4">בתוך המנחות והעופות</text><text class="b" y="-5.8">החטאת קודמת</text><text y="16.8">(מנחת חוטא &gt; מנחת נדבה</text><text y="39.4">חטאת העוף &gt; עולת העוף)</text></g></g>
<g id="n-p9a"><rect class="n" x="411.5" y="3858.5" width="128" height="50" rx="5"/><g transform="translate(475.5 3883.5)"><text class="b" y="-5.8">היתרון</text><text y="16.8">חטאת מכפרת</text></g></g>
<g id="n-p9b"><rect class="n" x="296.5" y="3913.5" width="243" height="50" rx="5"/><g transform="translate(418 3938.5)"><text class="b" y="-5.8">היתרון ההפוך</text><text y="16.8">במנחת נדבה יש גם שמן ולבונה</text></g></g>
</svg>
